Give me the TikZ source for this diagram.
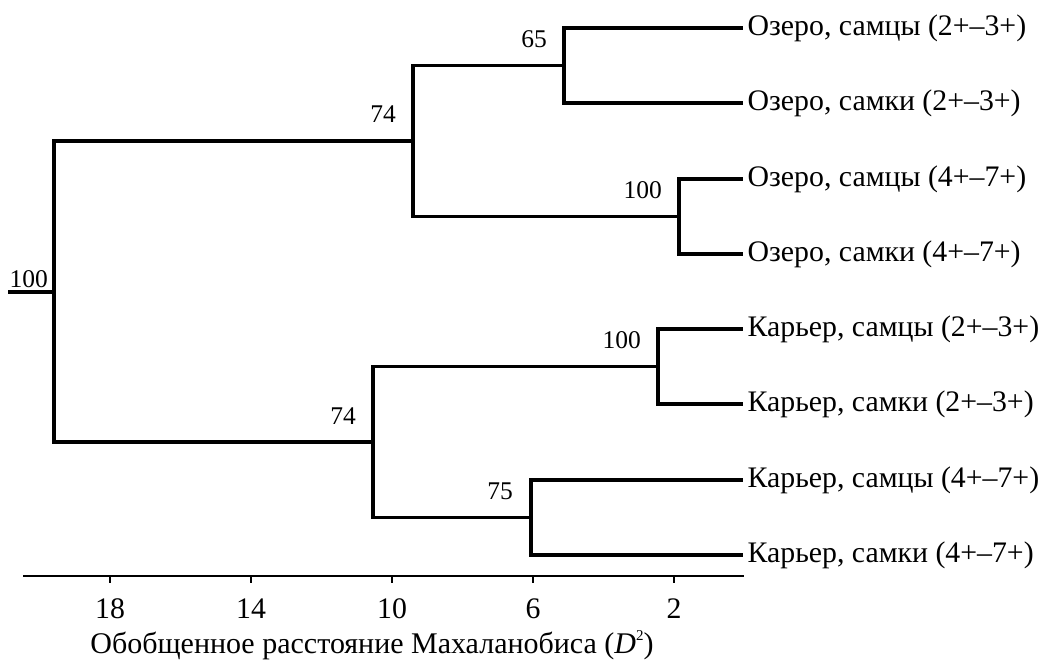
\documentclass[tikz,border=0pt]{standalone}
\usepackage{fontspec}
\setmainfont{Liberation Serif}
\begin{document}
\begin{tikzpicture}[x=1pt,y=-1pt,
  branch/.style={line width=3.2pt, line join=miter, line cap=rect},
  axisline/.style={line width=1.9pt},
  leaf/.style={anchor=west, inner xsep=6.5pt, inner ysep=4pt, font=\fontsize{29.8}{34}\selectfont},
  boot/.style={anchor=base east, inner sep=0pt, font=\fontsize{25.5}{30}\selectfont},
  ticklab/.style={anchor=base, inner sep=0pt, font=\fontsize{29.8}{34}\selectfont},
  axtitle/.style={anchor=base, inner sep=0pt, font=\fontsize{30}{36}\selectfont}]
\useasboundingbox (0,0) rectangle (1043,660);

% leaves
\node[leaf] (l1) at (741,28)  {Озеро, самцы (2+–3+)};
\node[leaf] (l2) at (741,103) {Озеро, самки (2+–3+)};
\node[leaf] (l3) at (741,179) {Озеро, самцы (4+–7+)};
\node[leaf] (l4) at (741,254) {Озеро, самки (4+–7+)};
\node[leaf] (l5) at (741,329) {Карьер, самцы (2+–3+)};
\node[leaf] (l6) at (741,404) {Карьер, самки (2+–3+)};
\node[leaf] (l7) at (741,480) {Карьер, самцы (4+–7+)};
\node[leaf] (l8) at (741,555) {Карьер, самки (4+–7+)};

% internal nodes
\coordinate (n65)  at (564,65.5);
\coordinate (nU100) at (679,216.5);
\coordinate (nU74) at (413,141);
\coordinate (nL100) at (658,366.5);
\coordinate (n75)  at (531,517.5);
\coordinate (nL74) at (373,442);
\coordinate (root) at (54,292);
\coordinate (stub) at (10,292);

% branches
\draw[branch] (n65) |- (l1.west);
\draw[branch] (n65) |- (l2.west);
\draw[branch] (nU100) |- (l3.west);
\draw[branch] (nU100) |- (l4.west);
\draw[branch] (nL100) |- (l5.west);
\draw[branch] (nL100) |- (l6.west);
\draw[branch] (n75) |- (l7.west);
\draw[branch] (n75) |- (l8.west);
\draw[branch] (nU74) |- (n65);
\draw[branch] (nU74) |- (nU100);
\draw[branch] (nL74) |- (nL100);
\draw[branch] (nL74) |- (n75);
\draw[branch] (root) |- (nU74);
\draw[branch] (root) |- (nL74);
\draw[branch] (stub) -- (root);

% bootstrap labels
\node[boot] (b65)   at (547,48)  {65};
\node[boot] (bU100) at (662,199) {100};
\node[boot] (bU74)  at (396,123) {74};
\node[boot] (bL100) at (641,348.5) {100};
\node[boot] (b75)   at (513,499) {75};
\node[boot] (bL74)  at (356,424) {74};
\node[boot] (broot) at (48,287)  {100};

% axis
\coordinate (axL) at (23,576);
\coordinate (axR) at (744,576);
\draw[axisline] (axL) -- (axR);
\foreach \d/\xx in {18/110, 14/251, 10/392, 6/533, 2/674}{
  \draw[axisline] (\xx,576) -- (\xx,583);
  \node[ticklab] (t\d) at (\xx,618) {\d};
}
\node[axtitle] (title) at (372,653) {Обобщенное расстояние Махаланобиса (\textit{D}\raisebox{0.42em}{\fontsize{15}{15}\selectfont 2})};
\end{tikzpicture}
\end{document}
